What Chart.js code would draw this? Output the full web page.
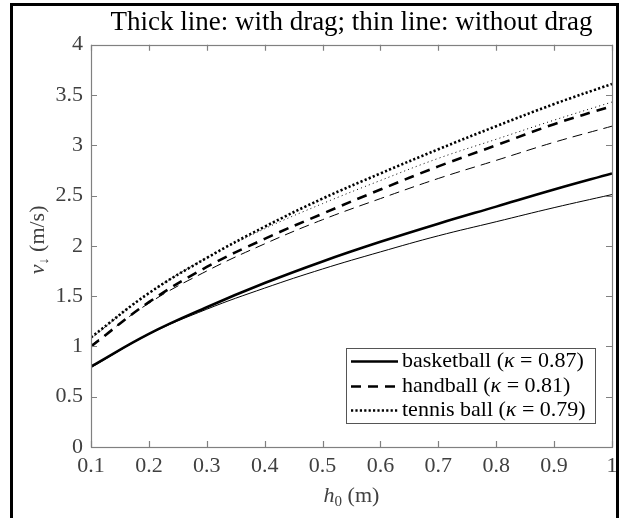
<!DOCTYPE html>
<html><head><meta charset="utf-8">
<script src="https://cdn.jsdelivr.net/npm/chart.js@4/dist/chart.umd.min.js"></script>
<style>
html,body{margin:0;padding:0;background:#fff;}
#wrap{position:relative;width:628px;height:518px;overflow:hidden;}
canvas{position:absolute;left:0;top:0;}
#frame{position:absolute;left:10px;top:3px;width:603px;height:520px;border:3px solid #000;border-bottom:none;}
</style></head><body>
<div id="wrap"><canvas id="c" width="628" height="518"></canvas><div id="frame"></div></div>
<script>
// ---- data ----
const h0 = [0.1, 0.2, 0.3, 0.4, 0.5, 0.6, 0.7, 0.8, 0.9, 1.0];
const basketballDrag   = [0.80, 1.125, 1.39, 1.63, 1.845, 2.04, 2.22, 2.39, 2.56, 2.72];
const basketballNoDrag = [0.79, 1.12, 1.37, 1.58, 1.77, 1.94, 2.10, 2.24, 2.38, 2.51];
const handballDrag     = [1.00, 1.44, 1.79, 2.07, 2.32, 2.56, 2.79, 3.00, 3.21, 3.39];
const handballNoDrag   = [1.01, 1.43, 1.75, 2.02, 2.26, 2.47, 2.67, 2.85, 3.03, 3.19];
const tennisDrag       = [1.09, 1.53, 1.88, 2.19, 2.47, 2.72, 2.96, 3.19, 3.41, 3.61];
const tennisNoDrag     = [1.08, 1.53, 1.88, 2.17, 2.42, 2.65, 2.87, 3.06, 3.25, 3.43];
const xTicks = [0.1, 0.2, 0.3, 0.4, 0.5, 0.6, 0.7, 0.8, 0.9, 1.0];
const xTickLabels = ['0.1','0.2','0.3','0.4','0.5','0.6','0.7','0.8','0.9','1'];
const yTicks = [0, 0.5, 1, 1.5, 2, 2.5, 3, 3.5, 4];
const yTickLabels = ['0','0.5','1','1.5','2','2.5','3','3.5','4'];
const legendLabels = [
  [['basketball (', ''], ['κ', 'italic'], [' = 0.87)', '']],
  [['handball (', ''], ['κ', 'italic'], [' = 0.81)', '']],
  [['tennis ball (', ''], ['κ', 'italic'], [' = 0.79)', '']]
];
const titleText = 'Thick line: with drag; thin line: without drag';

const FONT = '"Liberation Serif", "Times New Roman", serif';
const AXIS_COLOR = '#808080';
const TEXT_COLOR = '#404040';

const pts = arr => h0.map((x, i) => ({x: x, y: arr[i]}));
const style = {
  solidThick: {borderWidth: 2.6, borderDash: []},
  solidThin: {borderWidth: 1, borderDash: []},
  dashThick: {borderWidth: 2.6, borderDash: [10, 7]},
  dashThin: {borderWidth: 1, borderDash: [10, 6]},
  dotThick: {borderWidth: 2.6, borderDash: [2.2, 2.2]},
  dotThin: {borderWidth: 1, borderDash: [1, 3.2]}
};
function ds(label, arr, st, inLegend) {
  return Object.assign({label: label, data: pts(arr), borderColor: '#000', backgroundColor: '#000',
    pointRadius: 0, fill: false, tension: 0.4, borderCapStyle: 'butt',
    inLegend: inLegend}, st);
}
const datasets = [
  ds('basketball no drag', basketballNoDrag, style.solidThin, -1),
  ds('handball no drag', handballNoDrag, style.dashThin, -1),
  ds('tennis no drag', tennisNoDrag, style.dotThin, -1),
  ds('basketball', basketballDrag, style.solidThick, 0),
  ds('handball', handballDrag, style.dashThick, 1),
  ds('tennis ball', tennisDrag, style.dotThick, 2)
];

function richWidth(ctx, parts, size) {
  let w = 0;
  parts.forEach(p => { ctx.font = (p.style || '') + ' ' + (p.size || size) + 'px ' + FONT; w += ctx.measureText(p.t).width; });
  return w;
}
function drawRich(ctx, parts, x, y, size, align) {
  let w = richWidth(ctx, parts, size);
  let cx = align === 'center' ? x - w / 2 : x;
  parts.forEach(p => {
    ctx.font = (p.style || '') + ' ' + (p.size || size) + 'px ' + FONT;
    ctx.fillText(p.t, cx, y + (p.dy || 0));
    cx += ctx.measureText(p.t).width;
  });
}

const decor = {
  id: 'decor',
  afterDatasetsDraw(chart) {
    const ctx = chart.ctx, a = chart.chartArea;
    const xs = chart.scales.x, ys = chart.scales.y;
    ctx.save();
    // axes box
    ctx.strokeStyle = AXIS_COLOR; ctx.lineWidth = 1.2;
    ctx.strokeRect(Math.round(a.left) + 0.5, Math.round(a.top) + 0.5, Math.round(a.right - a.left), Math.round(a.bottom - a.top));
    const tl = 6;
    ctx.beginPath();
    xTicks.forEach(v => {
      const px = Math.round(xs.getPixelForValue(v)) + 0.5;
      ctx.moveTo(px, a.bottom); ctx.lineTo(px, a.bottom - tl);
      ctx.moveTo(px, a.top); ctx.lineTo(px, a.top + tl);
    });
    yTicks.forEach(v => {
      const py = Math.round(ys.getPixelForValue(v)) + 0.5;
      ctx.moveTo(a.left, py); ctx.lineTo(a.left + tl, py);
      ctx.moveTo(a.right, py); ctx.lineTo(a.right - tl, py);
    });
    ctx.stroke();

    // legend
    const lx = 346, ly = 348, lw = 249, lh = 75;
    ctx.fillStyle = '#fff';
    ctx.fillRect(lx, ly, lw, lh);
    ctx.strokeStyle = '#555'; ctx.lineWidth = 1;
    ctx.strokeRect(lx + 0.5, ly + 0.5, lw, lh);
    const rows = [361, 386, 410];
    chart.data.datasets.forEach(d => {
      if (d.inLegend < 0) return;
      const ry = rows[d.inLegend];
      ctx.strokeStyle = d.borderColor; ctx.lineWidth = d.borderWidth;
      ctx.setLineDash(d.borderDash); ctx.lineCap = 'butt';
      ctx.beginPath(); ctx.moveTo(351, ry + 0.5); ctx.lineTo(398, ry + 0.5); ctx.stroke();
      ctx.setLineDash([]);
      ctx.fillStyle = '#000'; ctx.textBaseline = 'middle'; ctx.textAlign = 'left';
      const parts = legendLabels[d.inLegend].map(p => ({t: p[0], style: p[1]}));
      drawRich(ctx, parts, 402, ry, 22, 'left');
    });

    // x axis title
    ctx.fillStyle = TEXT_COLOR; ctx.textBaseline = 'alphabetic'; ctx.textAlign = 'left';
    drawRich(ctx, [{t: 'h', style: 'italic'}, {t: '0', size: 15, dy: 4}, {t: ' (m)'}], (a.left + a.right) / 2, 502, 22, 'center');
    // y axis title
    ctx.save();
    ctx.translate(44, (a.top + a.bottom) / 2 - 6);
    ctx.rotate(-Math.PI / 2);
    drawRich(ctx, [{t: 'v', style: 'italic'}, {t: '↓', size: 14, dy: 4}, {t: ' (m/s)'}], 0, 0, 22, 'center');
    ctx.restore();
    ctx.restore();
  }
};

new Chart(document.getElementById('c'), {
  type: 'line',
  data: {datasets: datasets},
  options: {
    responsive: false, animation: false, devicePixelRatio: 1,
    layout: {padding: {left: 0, right: 16, top: 0, bottom: 0}},
    plugins: {
      legend: {display: false}, tooltip: {enabled: false},
      title: {display: true, text: titleText, fullSize: false, color: '#000',
        font: {family: FONT, size: 27, weight: 'normal'}, padding: {top: 7, bottom: 5.3}}
    },
    scales: {
      x: {type: 'linear', min: 0.1, max: 1,
        grid: {display: false, drawTicks: false}, border: {display: false},
        afterBuildTicks: s => { s.ticks = xTicks.map(v => ({value: v})); },
        afterFit: s => { s.height = 71; },
        ticks: {padding: 6, color: TEXT_COLOR, font: {family: FONT, size: 22}, maxRotation: 0, autoSkip: false,
          callback: (v, i) => xTickLabels[i]}},
      y: {type: 'linear', min: 0, max: 4,
        grid: {display: false, drawTicks: false}, border: {display: false},
        afterBuildTicks: s => { s.ticks = yTicks.map(v => ({value: v})); },
        afterFit: s => { s.width = 91; },
        ticks: {padding: 8, color: TEXT_COLOR, font: {family: FONT, size: 22}, autoSkip: false,
          callback: (v, i) => yTickLabels[i]}}
    }
  },
  plugins: [decor]
});
</script>
</body></html>
